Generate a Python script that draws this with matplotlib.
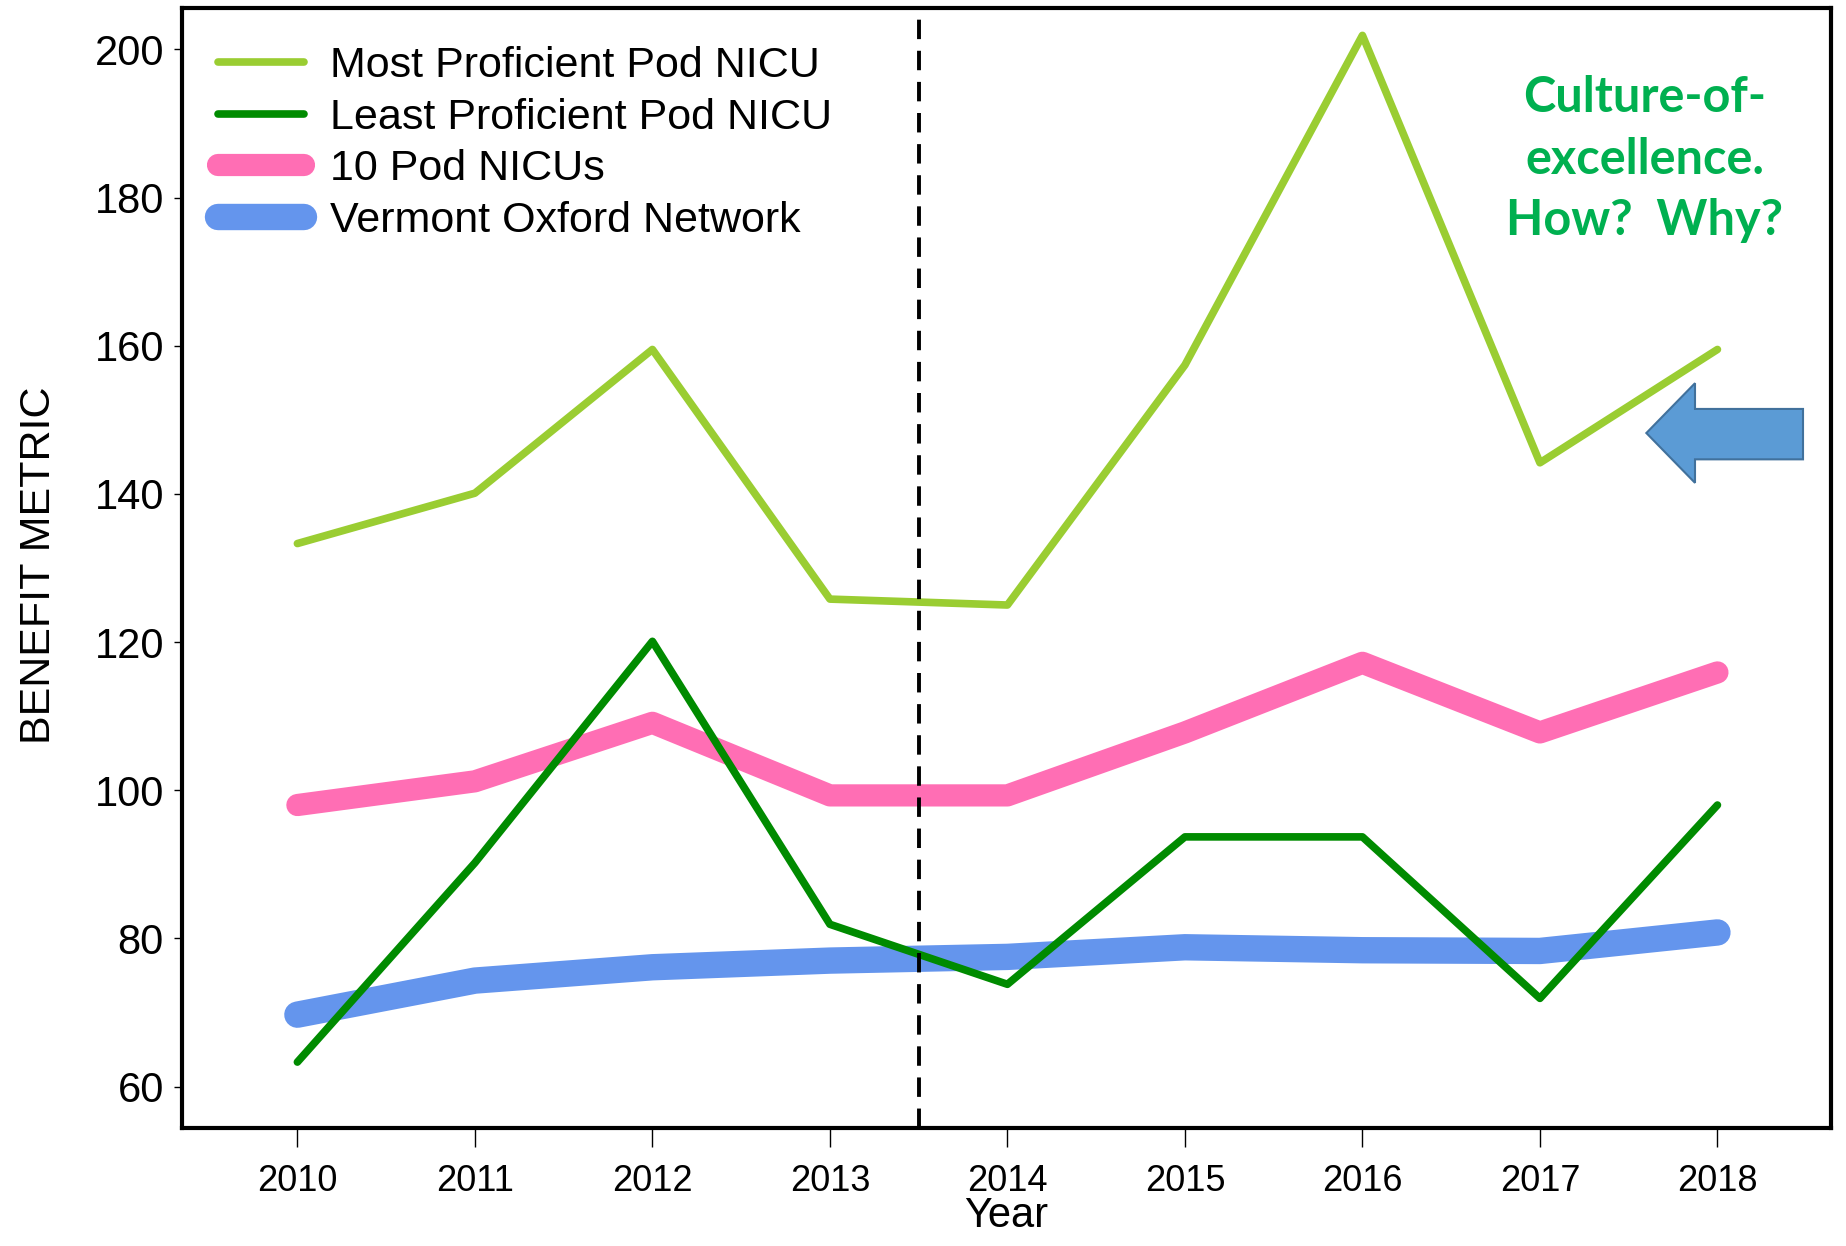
import matplotlib
matplotlib.use("Agg")
import matplotlib.pyplot as plt
from matplotlib.patches import Polygon

plt.rcParams['font.family'] = ['Liberation Sans', 'DejaVu Sans']

# data
years = [2010, 2011, 2012, 2013, 2014, 2015, 2016, 2017, 2018]
most_proficient = [133.3, 140.1, 159.5, 125.8, 125.0, 157.4, 201.9, 144.2, 159.5]
least_proficient = [63.3, 90.2, 120.1, 81.9, 73.8, 93.7, 93.7, 71.9, 98.0]
pod_nicus = [98.0, 101.2, 109.1, 99.3, 99.3, 107.8, 117.2, 107.8, 115.9]
von = [69.7, 74.3, 76.1, 77.0, 77.5, 78.8, 78.4, 78.3, 80.8]
yticks = [60, 80, 100, 120, 140, 160, 180, 200]
cutoff_year = 2013.5

fig = plt.figure(figsize=(18.46, 12.46), dpi=100)
ax = fig.add_axes([0.0986, 0.0947, 0.8933, 0.8989])

l_von, = ax.plot(years, von, color='#6495ED', lw=19, solid_capstyle='round',
                 solid_joinstyle='round', label='Vermont Oxford Network')
l_pod, = ax.plot(years, pod_nicus, color='#FF6EB4', lw=16, solid_capstyle='round',
                 solid_joinstyle='round', label='10 Pod NICUs')
l_most, = ax.plot(years, most_proficient, color='#9ACD32', lw=5.5, solid_capstyle='round',
                  label='Most Proficient Pod NICU')
l_least, = ax.plot(years, least_proficient, color='#008B00', lw=5.5, solid_capstyle='round',
                   label='Least Proficient Pod NICU')
ax.axvline(cutoff_year, color='black', lw=2.8, ls=(0, (5, 3)), zorder=5)

ax.set_xlim(2009.35, 2018.64)
ax.set_ylim(54.4, 205.6)
ax.set_xticks(years)
ax.set_yticks(yticks)
ax.tick_params(axis='x', length=14, width=1, pad=12, labelsize=26)
ax.tick_params(axis='y', length=6, width=1, pad=7, labelsize=30)
for s in ax.spines.values():
    s.set_linewidth(3)

ax.set_xlabel('Year', fontsize=30, va='top')
ax.xaxis.set_label_coords(0.5, -0.061)
ax.set_ylabel('BENEFIT METRIC', fontsize=31)
ax.yaxis.set_label_coords(-0.0743, 0.502)

leg = ax.legend(handles=[l_most, l_least, l_pod, l_von], loc='upper left',
                bbox_to_anchor=(0.022, 0.966), frameon=False, fontsize=31,
                handlelength=2.0, handletextpad=0.6, labelspacing=0.27,
                borderaxespad=0, borderpad=0)

ax.text(0.887, 0.865, 'Culture-of-\nexcellence.\nHow?  Why?', transform=ax.transAxes,
        ha='center', va='center', fontsize=35, fontweight='bold', color='#00B050',
        family=['Lato', 'DejaVu Sans'], linespacing=1.45)

# block arrow pointing at the 2018 value
arrow = Polygon([(0.888, 0.6205), (0.9175, 0.665), (0.9175, 0.642), (0.983, 0.642),
                 (0.983, 0.597), (0.9175, 0.597), (0.9175, 0.576)], closed=True,
                transform=ax.transAxes, facecolor='#5B9BD5', edgecolor='#41719C', lw=1.5)
ax.add_patch(arrow)

fig.savefig('out.png', dpi=100)
